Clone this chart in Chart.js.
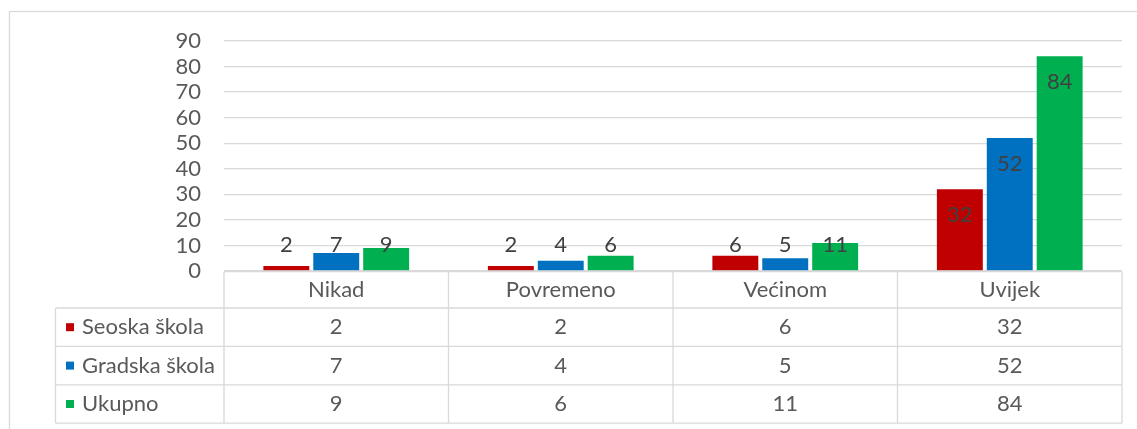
<!DOCTYPE html>
<html>
<head>
<meta charset="utf-8">
<script src="https://cdn.jsdelivr.net/npm/chart.js@4/dist/chart.umd.min.js"></script>
<style>
  html, body { margin: 0; padding: 0; background: #fff; }
  #wrap { width: 1137px; height: 429px; position: relative; }
</style>
</head>
<body>
<div id="wrap"><canvas id="chart"></canvas></div>
<script>
const categories = ['Nikad', 'Povremeno', 'Većinom', 'Uvijek'];
const seriesNames = ['Seoska škola', 'Gradska škola', 'Ukupno'];
const seoska = [2, 2, 6, 32];
const gradska = [7, 4, 5, 52];
const ukupno = [9, 6, 11, 84];
const yMax = 90;
const yStep = 10;

const colors = ['#C00000', '#0070C0', '#00B050'];
const FONT = 'Lato, "Noto Sans", sans-serif';
const textColor = '#595959';
const lineColor = '#D9D9D9';

// outer frame of the chart object
const framePlugin = {
  id: 'frame',
  beforeDraw(chart) {
    const ctx = chart.ctx;
    ctx.save();
    ctx.fillStyle = '#fff';
    ctx.fillRect(0, 0, chart.width, chart.height);
    ctx.strokeStyle = lineColor;
    ctx.lineWidth = 1.3;
    ctx.strokeRect(9.5, 11.5, 2000, 2000);
    ctx.restore();
  }
};

// Excel-like labels: inside end, pushed up for short bars
const labelPlugin = {
  id: 'barLabels',
  afterDatasetsDraw(chart) {
    const ctx = chart.ctx;
    ctx.save();
    ctx.font = '22px ' + FONT;
    ctx.fillStyle = '#404040';
    ctx.textAlign = 'center';
    ctx.textBaseline = 'middle';
    chart.data.datasets.forEach((ds, i) => {
      chart.getDatasetMeta(i).data.forEach((el, j) => {
        const y = Math.min(el.y + 25.5, el.base - 25);
        ctx.fillText(String(ds.data[j]), el.x, y);
      });
    });
    ctx.restore();
  }
};

// data table under the plot
const tablePlugin = {
  id: 'dataTable',
  afterDraw(chart) {
    const ctx = chart.ctx;
    const area = chart.chartArea;
    const n = categories.length;
    const colW = (area.right - area.left) / n;
    const top = area.bottom + 0.5;
    const headH = 36.5;
    const rowH = 38.4;
    const legendLeft = 55.5;
    const bottom = top + headH + rowH * seriesNames.length;

    ctx.save();
    ctx.strokeStyle = lineColor;
    ctx.lineWidth = 1.3;
    ctx.beginPath();
    // header top
    ctx.moveTo(area.left, top); ctx.lineTo(area.right, top);
    // row lines
    for (let r = 0; r <= seriesNames.length; r++) {
      const y = top + headH + r * rowH;
      ctx.moveTo(legendLeft, y); ctx.lineTo(area.right, y);
    }
    // vertical lines
    ctx.moveTo(legendLeft, top + headH); ctx.lineTo(legendLeft, bottom);
    for (let c = 0; c <= n; c++) {
      const x = area.left + c * colW;
      ctx.moveTo(x, top); ctx.lineTo(x, bottom);
    }
    ctx.stroke();

    ctx.font = '22px ' + FONT;
    ctx.fillStyle = textColor;
    ctx.textBaseline = 'middle';
    ctx.textAlign = 'center';
    categories.forEach((c, i) => {
      ctx.fillText(c, area.left + (i + 0.5) * colW, top + headH / 2);
    });
    chart.data.datasets.forEach((ds, r) => {
      const cy = top + headH + (r + 0.5) * rowH;
      ctx.textAlign = 'center';
      ds.data.forEach((v, i) => {
        ctx.fillText(String(v), area.left + (i + 0.5) * colW, cy);
      });
      ctx.fillStyle = colors[r];
      ctx.fillRect(66, cy - 4, 8, 8);
      ctx.fillStyle = textColor;
      ctx.textAlign = 'left';
      ctx.fillText(ds.label, 82, cy);
    });
    ctx.restore();
  }
};

const seriesValues = [seoska, gradska, ukupno];

new Chart(document.getElementById('chart'), {
  type: 'bar',
  data: {
    labels: categories,
    datasets: seriesNames.map((name, i) => ({
      label: name,
      data: seriesValues[i],
      backgroundColor: colors[i],
      borderWidth: 0,
      categoryPercentage: 0.667,
      barPercentage: 0.92
    }))
  },
  options: {
    responsive: true,
    maintainAspectRatio: false,
    animation: false,
    layout: { padding: { left: 0, right: 15, top: 41, bottom: 158 } },
    plugins: {
      legend: { display: false },
      tooltip: { enabled: false }
    },
    scales: {
      x: {
        display: false
      },
      y: {
        min: 0,
        max: yMax,
        afterFit(scale) { scale.width = 224; },
        border: { display: false },
        grid: { color: lineColor, lineWidth: 1.3, drawTicks: false },
        ticks: {
          stepSize: yStep,
          autoSkip: false,
          padding: 23,
          color: textColor,
          font: { family: FONT, size: 22 }
        }
      }
    }
  },
  plugins: [framePlugin, labelPlugin, tablePlugin]
});
</script>
</body>
</html>
